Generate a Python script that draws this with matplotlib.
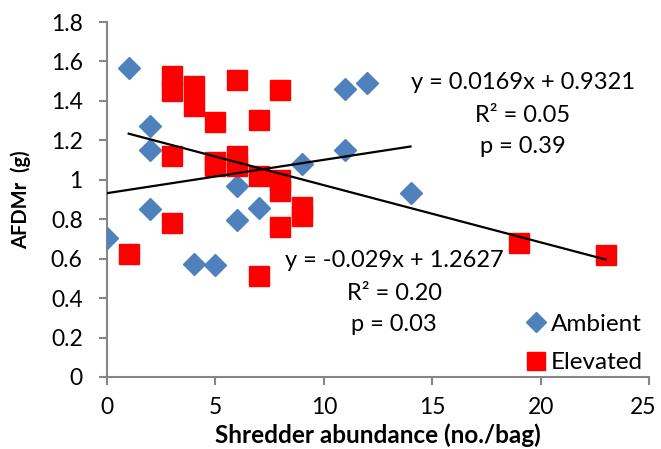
import numpy as np
import matplotlib
matplotlib.use("Agg")
import matplotlib.pyplot as plt
from matplotlib.transforms import ScaledTranslation

plt.rcParams['font.family'] = ['Lato', 'DejaVu Sans']

# Ambient treatment
amb_x = [0, 1, 2, 2, 2, 4, 5, 6, 6, 7, 9, 11, 11, 12, 14]
amb_y = [0.706, 1.569, 1.274, 1.152, 0.853, 0.574, 0.569, 0.970, 0.797,
         0.858, 1.081, 1.462, 1.152, 1.492, 0.934]

# Elevated treatment
elev_x = [1, 3, 3, 3, 3, 4, 4, 5, 5, 5, 6, 6, 6, 7, 7, 7, 8, 8, 8, 8,
          9, 9, 19, 23]
elev_y = [0.623, 1.525, 1.449, 1.120, 0.780, 1.476, 1.374, 1.293, 1.092,
          1.070, 1.506, 1.119, 1.069, 1.303, 1.019, 0.511, 1.455, 0.997,
          0.942, 0.760, 0.860, 0.815, 0.679, 0.621]

# Linear trend lines
amb_slope, amb_icpt = 0.0169, 0.9321
elev_slope, elev_icpt = -0.029, 1.2627

amb_eq = ["y = 0.0169x + 0.9321", "R² = 0.05", "p = 0.39"]
elev_eq = ["y = -0.029x + 1.2627", "R² = 0.20", "p = 0.03"]

x_ticks = [0, 5, 10, 15, 20, 25]
y_ticks = [0, 0.2, 0.4, 0.6, 0.8, 1.0, 1.2, 1.4, 1.6, 1.8]
y_tick_labels = ["0", "0.2", "0.4", "0.6", "0.8", "1", "1.2", "1.4", "1.6", "1.8"]

fig = plt.figure(figsize=(6.61, 4.49), dpi=100)
ax = fig.add_axes([0.1619, 0.1604, 0.8199, 0.7906])

ax.plot(amb_x, amb_y, linestyle='none', marker='D', markersize=11,
        color='#4F81BD', label='Ambient', zorder=3)
ax.plot(elev_x, elev_y, linestyle='none', marker='s', markersize=13.7,
        color='#FF0000', label='Elevated', zorder=3)

xa = np.array([min(amb_x), max(amb_x)])
ax.plot(xa, amb_slope * xa + amb_icpt, color='black', lw=1.6, zorder=4)
xe = np.array([min(elev_x), max(elev_x)])
ax.plot(xe, elev_slope * xe + elev_icpt, color='black', lw=1.6, zorder=4)

ax.set_xlim(0, 25)
ax.set_ylim(0, 1.8)
ax.set_xticks(x_ticks)
ax.set_yticks(y_ticks)
ax.set_yticklabels(y_tick_labels)

for s in ['top', 'right']:
    ax.spines[s].set_visible(False)
for s in ['left', 'bottom']:
    ax.spines[s].set_color('#868686')
    ax.spines[s].set_linewidth(1.5)
ax.tick_params(axis='both', colors='#868686', length=5.5, width=1.5,
               labelsize=16.5, labelcolor='black')
ax.tick_params(axis='x', pad=9)
ax.tick_params(axis='y', pad=12)

# keep the last x tick label inside the figure edge
last = ax.get_xticklabels()[-1]
last.set_transform(last.get_transform() +
                   ScaledTranslation(-4 / 72, 0, fig.dpi_scale_trans))

ax.set_xlabel("Shredder abundance (no./bag)", fontsize=17.5, fontweight='bold')
ax.xaxis.label.set_va('baseline')
ax.xaxis.set_label_coords(0.5, -0.186)
ax.set_ylabel("AFDMr  (g)", fontsize=14.5, fontweight='bold')
ax.yaxis.set_label_coords(-0.14, 0.5)

for line, yb in zip(amb_eq, [1.460, 1.294, 1.137]):
    ax.text(19.19, yb, line, ha='center', va='baseline', fontsize=17)
for line, yb in zip(elev_eq, [0.558, 0.391, 0.2335]):
    ax.text(13.24, yb, line, ha='center', va='baseline', fontsize=17)

ax.legend(loc='lower right', bbox_to_anchor=(1.015, -0.03), frameon=False,
          fontsize=17.5, handletextpad=0.1, labelspacing=0.72,
          borderaxespad=0.2, handlelength=1.0, markerscale=0.9)

fig.savefig("out.png", dpi=100)
